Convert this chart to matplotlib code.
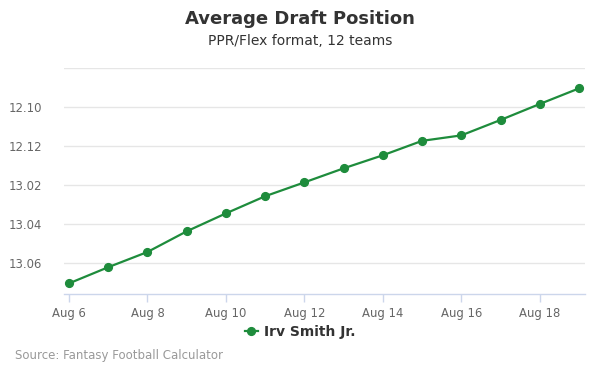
import matplotlib
matplotlib.use("Agg")
import matplotlib.pyplot as plt
from matplotlib.lines import Line2D

# Data
days = [6, 7, 8, 9, 10, 11, 12, 13, 14, 15, 16, 17, 18, 19]
adp = [151.03, 150.2, 149.42, 148.36, 147.44, 146.56, 145.85, 145.13,
       144.46, 143.72, 143.44, 142.65, 141.83, 141.03]
x_ticks = [6, 8, 10, 12, 14, 16, 18]
x_labels = ["Aug 6", "Aug 8", "Aug 10", "Aug 12", "Aug 14", "Aug 16", "Aug 18"]
y_ticks = [140, 142, 144, 146, 148, 150]
teams = 12
player = "Irv Smith Jr."

def pick_label(v):
    v = int(round(v))
    rnd = (v - 1) // teams + 1
    pk = (v - 1) % teams + 1
    return f"{rnd}.{pk:02d}"

W, H = 600, 375
fig = plt.figure(figsize=(W / 100, H / 100), dpi=100)
ax = fig.add_axes([64 / W, 1 - 294.3 / H, (585 - 64) / W, (294.3 - 68.3) / H])

green = "#1e8c3c"
ax.plot(days, adp, color=green, lw=1.6, marker="o", ms=5.6, zorder=3, clip_on=False)

ax.set_xlim(6 - 5 / 39.25, 19 + 6 / 39.25)
ax.set_ylim(140 + (294.3 - 68.3) / 19.5, 140)

ax.set_yticks(y_ticks)
ax.set_yticklabels(["" if t == 140 else pick_label(t) for t in y_ticks])
ax.set_xticks(x_ticks)
ax.set_xticklabels(x_labels)

ax.grid(axis="y", color="#e6e6e6", lw=1)
ax.set_axisbelow(True)
for s in ["top", "left", "right"]:
    ax.spines[s].set_visible(False)
ax.spines["bottom"].set_color("#ccd6eb")
ax.spines["bottom"].set_linewidth(1)

ax.tick_params(axis="y", length=0, pad=16, labelsize=8.4, labelcolor="#666666")
ax.tick_params(axis="x", length=6, width=1, color="#ccd6eb", pad=3,
               labelsize=8.4, labelcolor="#666666")

fig.text(0.5, 1 - 19 / H, "Average Draft Position", ha="center", va="center",
         fontsize=13, fontweight="bold", color="#333333")
fig.text(0.5, 1 - 41 / H, "PPR/Flex format, 12 teams", ha="center", va="center",
         fontsize=10, color="#333333")

handle = Line2D([], [], color=green, lw=1.6, marker="o", ms=5.6)
leg = fig.legend([handle], [player], loc="center", bbox_to_anchor=(0.5, 1 - 332 / H),
                 frameon=False, handlelength=1.0, handletextpad=0.4,
                 prop={"weight": "bold", "size": 10})
for t in leg.get_texts():
    t.set_color("#333333")

fig.text(15 / W, 1 - 356 / H, "Source: Fantasy Football Calculator", ha="left",
         va="center", fontsize=8.5, color="#999999")

fig.savefig("out.png", dpi=100)
